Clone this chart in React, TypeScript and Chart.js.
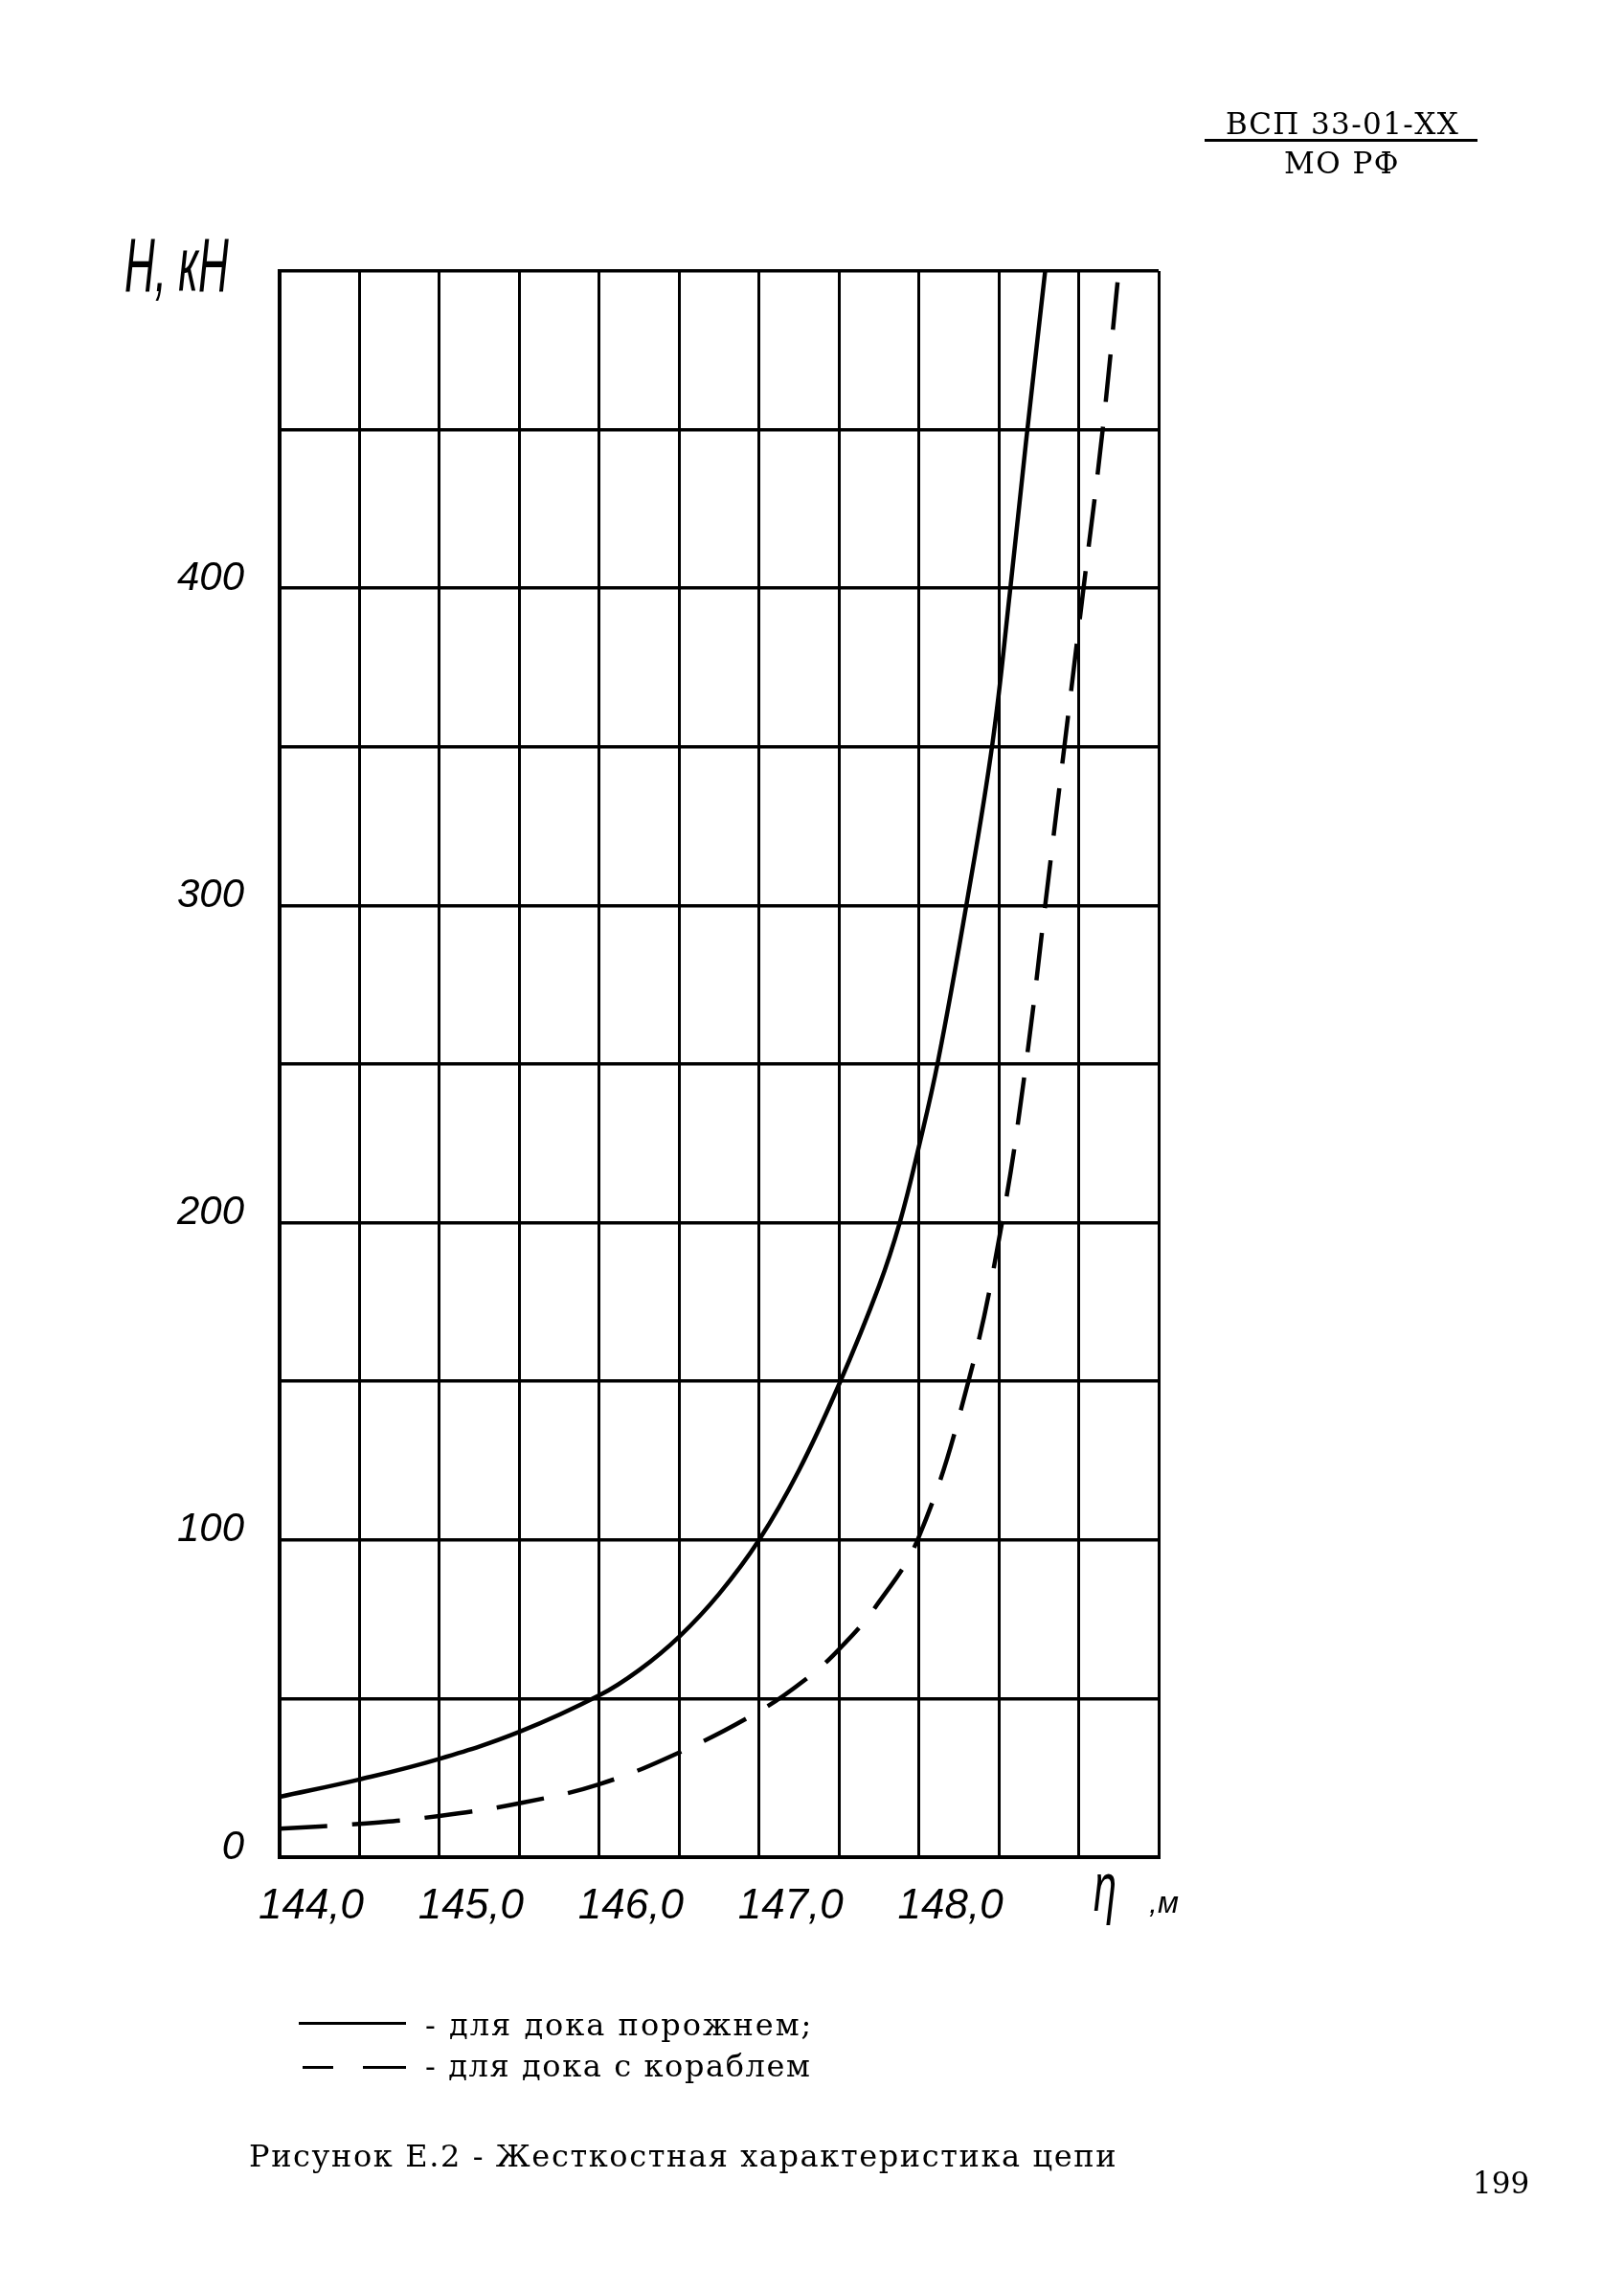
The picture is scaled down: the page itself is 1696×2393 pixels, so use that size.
import React, { useEffect, useRef } from "react";
import { Chart, registerables } from "chart.js";

Chart.register(...registerables);

// η, m  (water level)  vs  H, kN  (horizontal chain force)
const emptyDockX = [144.0, 144.5, 145.0, 145.5, 146.0, 146.25, 146.5, 146.75, 147.0, 147.25, 147.5, 147.75, 147.88, 148.0, 148.12, 148.3, 148.46, 148.57, 148.67, 148.79];
const emptyDockH = [19, 24.5, 31, 39.5, 51, 59, 69.5, 83, 100, 122, 149, 180, 200, 224, 251, 301, 351, 399, 446, 500];

const shipDockX = [144.0, 144.5, 145.0, 145.5, 146.0, 146.5, 147.0, 147.29, 147.5, 147.73, 148.0, 148.31, 148.52, 148.67, 148.79, 148.91, 149.03, 149.15, 149.25];
const shipDockH = [9, 10.5, 13, 17, 23, 33, 46, 56, 65.5, 79, 101, 150, 200, 250, 300, 350, 400, 450, 500];

const xLabelValues = [144, 145, 146, 147, 148];
const yLabelValues = [0, 100, 200, 300, 400];

const seriesNames = ["для дока порожнем", "для дока с кораблем"];

const HAND = "'Liberation Sans', 'DejaVu Sans', sans-serif";
const SERIF = "'DejaVu Serif', 'Liberation Serif', serif";

export default function App() {
  const ref = useRef<HTMLCanvasElement | null>(null);

  useEffect(() => {
    const canvas = ref.current;
    if (!canvas) return;
    const chart = new Chart(canvas, {
      type: "line",
      data: {
        datasets: [
          {
            label: seriesNames[0],
            data: emptyDockX.map((x, i) => ({ x, y: emptyDockH[i] })),
            borderColor: "#000",
            borderWidth: 4.5,
            pointRadius: 0,
            fill: false,
            tension: 0.4,
          },
          {
            label: seriesNames[1],
            data: shipDockX.map((x, i) => ({ x, y: shipDockH[i] })),
            borderColor: "#000",
            borderWidth: 4.5,
            borderDash: [50, 26],
            pointRadius: 0,
            fill: false,
            tension: 0.4,
          },
        ],
      },
      options: {
        responsive: false,
        animation: false,
        devicePixelRatio: 1,
        layout: { padding: { left: 132, top: 283, right: 486, bottom: 354 } },
        plugins: { legend: { display: false }, tooltip: { enabled: false } },
        scales: {
          x: {
            type: "linear",
            min: 144,
            max: 149.5,
            afterFit: (s: any) => {
              s.height = 100;
            },
            grid: { color: "#000", lineWidth: 3, drawTicks: false },
            border: { display: true, color: "#000", width: 4 },
            ticks: {
              stepSize: 0.5,
              autoSkip: false,
              maxRotation: 0,
              padding: 25,
              labelOffset: 33,
              color: "#000",
              font: { family: HAND, size: 44, style: "italic" },
              callback: (v: any) => {
                const n = Number(v);
                const r = Math.round(n);
                if (Math.abs(n - r) < 1e-6 && xLabelValues.includes(r)) {
                  return r.toFixed(1).replace(".", ",");
                }
                return "";
              },
            },
          },
          y: {
            type: "linear",
            min: 0,
            max: 500,
            afterFit: (s: any) => {
              s.width = 160;
            },
            grid: { color: "#000", lineWidth: 3.5, drawTicks: false },
            border: { display: true, color: "#000", width: 4 },
            ticks: {
              stepSize: 50,
              autoSkip: false,
              padding: 37,
              labelOffset: -10,
              color: "#000",
              font: { family: HAND, size: 42, style: "italic" },
              callback: (v: any) => {
                const n = Math.round(Number(v));
                return yLabelValues.includes(n) ? String(n) : "";
              },
            },
          },
        },
      },
    });
    return () => chart.destroy();
  }, []);

  const abs = (extra: React.CSSProperties): React.CSSProperties => ({
    position: "absolute",
    whiteSpace: "nowrap",
    color: "#000",
    ...extra,
  });

  return (
    <div
      style={{
        position: "absolute",
        left: 0,
        top: 0,
        width: 1696,
        height: 2393,
        background: "#fff",
        overflow: "hidden",
      }}
    >
      <canvas
        ref={ref}
        width={1696}
        height={2393}
        style={{ position: "absolute", left: 0, top: 0, width: 1696, height: 2393 }}
      />

      {/* header */}
      <div style={abs({ left: 1280, top: 109, font: `31px/40px ${SERIF}`, letterSpacing: "1.4px" })}>ВСП 33-01-XX</div>
      <div style={abs({ left: 1258, top: 145, width: 285, height: 0, borderTop: "3px solid #000" })} />
      <div style={abs({ left: 1341, top: 150, font: `31px/40px ${SERIF}`, letterSpacing: "1.5px" })}>МО РФ</div>

      {/* axis titles */}
      <div
        style={abs({
          left: 130,
          top: 237,
          font: `italic 80px/80px ${HAND}`,
          transform: "scaleX(0.55)",
          transformOrigin: "left top",
        })}
      >
        H, кН
      </div>
      <div
        style={abs({
          left: 1142,
          top: 1930,
          font: `italic 72px/80px ${HAND}`,
          transform: "scaleX(0.6)",
          transformOrigin: "left top",
        })}
      >
        η
      </div>
      <div style={abs({ left: 1200, top: 1966, font: `italic 32px/40px ${HAND}` })}>,м</div>

      {/* legend */}
      <div style={abs({ left: 312, top: 2111, width: 112, height: 0, borderTop: "3px solid #000" })} />
      <div style={abs({ left: 444, top: 2094, font: `32px/40px ${SERIF}`, letterSpacing: "2px" })}>
        - {seriesNames[0]};
      </div>
      <div style={abs({ left: 316, top: 2157, width: 32, height: 0, borderTop: "3px solid #000" })} />
      <div style={abs({ left: 379, top: 2157, width: 45, height: 0, borderTop: "3px solid #000" })} />
      <div style={abs({ left: 444, top: 2137, font: `32px/40px ${SERIF}`, letterSpacing: "1.6px" })}>
        - {seriesNames[1]}
      </div>

      {/* caption */}
      <div style={abs({ left: 260, top: 2231, font: `32px/40px ${SERIF}`, letterSpacing: "1.6px" })}>
        Рисунок Е.2 - Жесткостная характеристика цепи
      </div>
      <div style={abs({ left: 1538, top: 2259, font: `31px/40px ${SERIF}` })}>199</div>
    </div>
  );
}
